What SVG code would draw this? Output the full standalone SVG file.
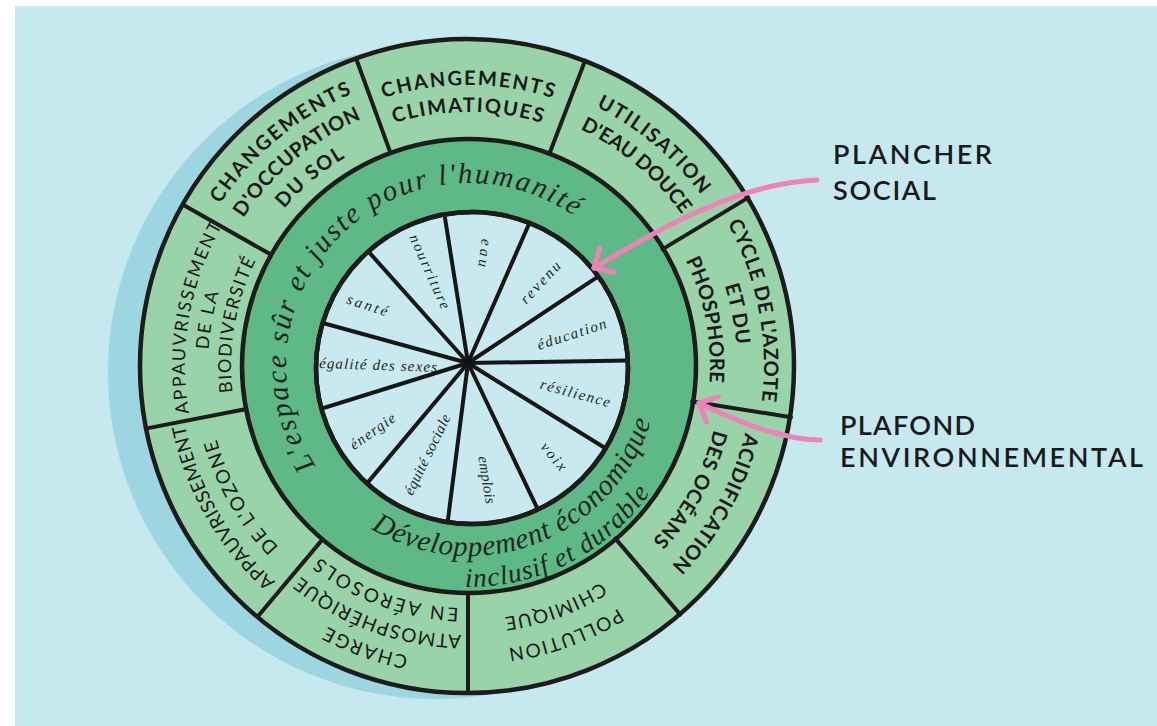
<svg xmlns="http://www.w3.org/2000/svg" width="1157" height="726" viewBox="0 0 1157 726">
  <style>
    .paper{fill:#ffffff}
    .bg{fill:#c6e8ef}
    .shadow{fill:#9dd6e0}
    .ring-outer{fill:#99d3a9;stroke:#1c1c1c;stroke-width:4.5}
    .ring-mid{fill:#5eb986;stroke:#1c1c1c;stroke-width:4.5}
    .core{fill:#c8e9ef;stroke:#1c1c1c;stroke-width:4.5}
    .divider{stroke:#1c1c1c;stroke-width:4;stroke-linecap:round}
    .spoke{stroke:#161616;stroke-width:4;stroke-linecap:round}
    .cap{font-family:Lato,"Open Sans",sans-serif;font-size:20px;font-weight:700;fill:#1a1a1a}
    .cap-light{font-weight:400;font-size:19px}
    .cap-small{font-size:18px}
    .script{font-family:"Liberation Serif","DejaVu Serif",serif;font-style:italic;fill:#1d2620}
    .ring-script{font-size:29px}
    .ring-script-2{font-size:27px}
    .need{font-size:15px}
    .link{fill:none;stroke:#ef82b6;stroke-width:5;stroke-linecap:round}
    .side{font-family:Lato,"Open Sans",sans-serif;font-size:27px;font-weight:600;fill:#1a1a1a}
  </style>
  <defs>
    <!-- 540° clockwise guide circles around the centre (468,366), starting at the bottom -->
    <path id="r237" d="M468,603 A237,237 0 0 1 468,129 A237,237 0 0 1 468,603 A237,237 0 0 1 468,129"/>
    <path id="r242" d="M468,608 A242,242 0 0 1 468,124 A242,242 0 0 1 468,608 A242,242 0 0 1 468,124"/>
    <path id="r254" d="M468,620 A254,254 0 0 1 468,112 A254,254 0 0 1 468,620 A254,254 0 0 1 468,112"/>
    <path id="r260" d="M468,626 A260,260 0 0 1 468,106 A260,260 0 0 1 468,626 A260,260 0 0 1 468,106"/>
    <path id="r262" d="M468,628 A262,262 0 0 1 468,104 A262,262 0 0 1 468,628 A262,262 0 0 1 468,104"/>
    <path id="r269" d="M468,635 A269,269 0 0 1 468,97 A269,269 0 0 1 468,635 A269,269 0 0 1 468,97"/>
    <path id="r281" d="M468,647 A281,281 0 0 1 468,85 A281,281 0 0 1 468,647 A281,281 0 0 1 468,85"/>
    <path id="r283" d="M468,649 A283,283 0 0 1 468,83 A283,283 0 0 1 468,649 A283,283 0 0 1 468,83"/>
    <path id="r285" d="M468,651 A285,285 0 0 1 468,81 A285,285 0 0 1 468,651 A285,285 0 0 1 468,81"/>
    <path id="r289" d="M468,655 A289,289 0 0 1 468,77 A289,289 0 0 1 468,655 A289,289 0 0 1 468,77"/>
    <path id="r296" d="M468,662 A296,296 0 0 1 468,70 A296,296 0 0 1 468,662 A296,296 0 0 1 468,70"/>
    <!-- guide for the upper script line (clockwise, tops outward) -->
    <path id="topScript" d="M469,549 A183,183 0 0 1 469,183 A183,183 0 0 1 469,549 A183,183 0 0 1 469,183"/>
    <!-- guides for the lower script lines (counter-clockwise, tops inward) -->
    <path id="lowScript1" d="M469,176 A190,190 0 0 0 469,556 A190,190 0 0 0 469,176"/>
    <path id="lowScript2" d="M469,145 A221,221 0 0 0 469,587 A221,221 0 0 0 469,145"/>
    <clipPath id="coreClip">
      <circle cx="472" cy="368" r="156"/>
    </clipPath>
    <marker id="arrowhead" viewBox="-20 -18 24 36" refX="0" refY="0" markerWidth="24" markerHeight="36" markerUnits="userSpaceOnUse" orient="auto">
      <path d="M-15,-14 L0,0 L-15,14" fill="none" stroke="#ef82b6" stroke-width="5" stroke-linecap="round" stroke-linejoin="round"/>
    </marker>
  </defs>

  <!-- paper and sky-blue panel -->
  <rect class="paper" x="0" y="0" width="1157" height="726"/>
  <rect class="bg" x="15" y="6" width="1142" height="720"/>

  <!-- soft drop shadow under the doughnut -->
  <circle class="shadow" cx="435" cy="372" r="327"/>

  <!-- rings -->
  <g id="ring-ceiling">
    <circle class="ring-outer" cx="467" cy="366" r="327"/>
  </g>
  <g id="ring-safe-space">
    <circle class="ring-mid" cx="469" cy="366" r="227"/>
  </g>
  <g id="ring-foundation">
    <circle class="core" cx="472" cy="368" r="156"/>
    <g clip-path="url(#coreClip)">
      <line class="spoke" x1="468" y1="363" x2="440.6" y2="190.2"/>
      <line class="spoke" x1="468" y1="363" x2="538.3" y2="202.8"/>
      <line class="spoke" x1="468" y1="363" x2="613.8" y2="266.2"/>
      <line class="spoke" x1="468" y1="363" x2="643.0" y2="360.3"/>
      <line class="spoke" x1="468" y1="363" x2="616.7" y2="455.2"/>
      <line class="spoke" x1="468" y1="363" x2="543.3" y2="521.0"/>
      <line class="spoke" x1="468" y1="363" x2="445.8" y2="536.6"/>
      <line class="spoke" x1="468" y1="363" x2="355.5" y2="497.1"/>
      <line class="spoke" x1="468" y1="363" x2="300.9" y2="415.0"/>
      <line class="spoke" x1="468" y1="363" x2="299.3" y2="316.5"/>
      <line class="spoke" x1="468" y1="363" x2="351.4" y2="232.5"/>
    </g>
    <circle cx="472" cy="368" r="156" fill="none" stroke="#1c1c1c" stroke-width="4.5"/>
    <circle cx="468" cy="363" r="4" fill="#111"/>
  </g>

  <!-- radial dividers of the outer ring -->
  <g id="ring-dividers">
    <line class="divider" x1="390.4" y1="152.6" x2="356.2" y2="58.7"/>
    <line class="divider" x1="549.3" y1="154.0" x2="585.1" y2="60.6"/>
    <line class="divider" x1="662.6" y1="249.1" x2="748.3" y2="197.6"/>
    <line class="divider" x1="692.2" y1="401.5" x2="791.0" y2="417.2"/>
    <line class="divider" x1="615.4" y1="538.6" x2="680.3" y2="614.6"/>
    <line class="divider" x1="468" y1="593" x2="468" y2="693"/>
    <line class="divider" x1="322.1" y1="539.9" x2="257.8" y2="616.5"/>
    <line class="divider" x1="245.1" y1="409.3" x2="146.9" y2="428.4"/>
    <line class="divider" x1="270.5" y1="254.3" x2="183.5" y2="205.0"/>
  </g>

  <!-- planetary boundaries -->
  <g id="boundary-climate" text-anchor="middle">
    <text class="cap"><textPath href="#r281" startOffset="33.333%" textLength="172">CHANGEMENTS</textPath></text>
    <text class="cap"><textPath href="#r254" startOffset="33.333%" textLength="150">CLIMATIQUES</textPath></text>
  </g>
  <g id="boundary-freshwater" text-anchor="middle">
    <text class="cap"><textPath href="#r289" startOffset="40.741%" textLength="138">UTILISATION</textPath></text>
    <text class="cap"><textPath href="#r262" startOffset="40.741%" textLength="134">D'EAU DOUCE</textPath></text>
  </g>
  <g id="boundary-nitrogen" text-anchor="middle">
    <text class="cap"><textPath href="#r296" startOffset="47.963%" textLength="184">CYCLE DE L'AZOTE</textPath></text>
    <text class="cap"><textPath href="#r269" startOffset="47.963%" textLength="60">ET DU</textPath></text>
    <text class="cap"><textPath href="#r242" startOffset="47.963%" textLength="126">PHOSPHORE</textPath></text>
  </g>
  <g id="boundary-ocean" text-anchor="middle">
    <text class="cap"><textPath href="#r285" startOffset="55.370%" textLength="154">ACIDIFICATION</textPath></text>
    <text class="cap"><textPath href="#r254" startOffset="55.370%" textLength="128">DES OCÉANS</textPath></text>
  </g>
  <g id="boundary-chemical" text-anchor="middle">
    <text class="cap cap-light"><textPath href="#r285" startOffset="62.963%" textLength="118">POLLUTION</textPath></text>
    <text class="cap cap-light"><textPath href="#r254" startOffset="62.963%" textLength="104">CHIMIQUE</textPath></text>
  </g>
  <g id="boundary-aerosol" text-anchor="middle">
    <text class="cap cap-light"><textPath href="#r296" startOffset="70.370%" textLength="86">CHARGE</textPath></text>
    <text class="cap cap-light"><textPath href="#r269" startOffset="70.370%" textLength="174">ATMOSPHÉRIQUE</textPath></text>
    <text class="cap cap-light"><textPath href="#r242" startOffset="70.370%" textLength="150">EN AÉROSOLS</textPath></text>
  </g>
  <g id="boundary-ozone" text-anchor="middle">
    <text class="cap cap-light"><textPath href="#r289" startOffset="11.111%" textLength="184">APPAUVRISSEMENT</textPath></text>
    <text class="cap cap-light"><textPath href="#r262" startOffset="11.111%" textLength="126">DE L'OZONE</textPath></text>
  </g>
  <g id="boundary-biodiversity" text-anchor="middle">
    <text class="cap cap-light cap-small"><textPath href="#r283" startOffset="18.519%" textLength="194">APPAUVRISSEMENT</textPath></text>
    <text class="cap cap-light cap-small"><textPath href="#r260" startOffset="18.519%" textLength="58">DE LA</textPath></text>
    <text class="cap cap-light cap-small"><textPath href="#r237" startOffset="18.519%" textLength="136">BIODIVERSITÉ</textPath></text>
  </g>
  <g id="boundary-land" text-anchor="middle">
    <text class="cap"><textPath href="#r296" startOffset="25.926%" textLength="174">CHANGEMENTS</textPath></text>
    <text class="cap"><textPath href="#r269" startOffset="25.926%" textLength="156">D'OCCUPATION</textPath></text>
    <text class="cap"><textPath href="#r242" startOffset="25.926%" textLength="80">DU SOL</textPath></text>
  </g>

  <!-- safe and just space -->
  <g id="safe-space-label" text-anchor="middle">
    <text class="script ring-script"><textPath href="#topScript" startOffset="25.185%" textLength="505">L'espace sûr et juste pour l'humanité</textPath></text>
    <text class="script ring-script"><textPath href="#lowScript1" startOffset="55.833%" textLength="345">Développement économique</textPath></text>
    <text class="script ring-script-2"><textPath href="#lowScript2" startOffset="57.5%" textLength="216">inclusif et durable</textPath></text>
  </g>

  <!-- social foundation -->
  <g id="needs" class="script need" text-anchor="middle">
    <g id="need-eau"><text transform="translate(484,253) rotate(97)" y="4" textLength="28">eau</text></g>
    <g id="need-revenu"><text transform="translate(541,283) rotate(-47)" y="4" textLength="52">revenu</text></g>
    <g id="need-education"><text transform="translate(572,335) rotate(-18)" y="4" textLength="72">éducation</text></g>
    <g id="need-resilience"><text transform="translate(575,394) rotate(15)" y="4" textLength="72">résilience</text></g>
    <g id="need-voix"><text transform="translate(553,457) rotate(50)" y="4" textLength="32">voix</text></g>
    <g id="need-emplois"><text transform="translate(486,480) rotate(81)" y="4" textLength="48">emplois</text></g>
    <g id="need-equite"><text transform="translate(428,455) rotate(-64)" y="4" textLength="88">équité sociale</text></g>
    <g id="need-energie"><text transform="translate(373,432) rotate(-35)" y="4" textLength="52">énergie</text></g>
    <g id="need-egalite"><text transform="translate(378,366) rotate(2)" y="4" textLength="118">égalité des sexes</text></g>
    <g id="need-sante"><text transform="translate(367,306) rotate(18)" y="4" textLength="42">santé</text></g>
    <g id="need-nourriture"><text transform="translate(429,272) rotate(66)" y="4" textLength="80">nourriture</text></g>
  </g>

  <!-- side captions -->
  <g id="caption-floor">
    <text class="side" x="833" y="164" textLength="159">PLANCHER</text>
    <text class="side" x="833" y="200" textLength="103">SOCIAL</text>
  </g>
  <g id="caption-ceiling">
    <text class="side" x="840" y="435" textLength="135">PLAFOND</text>
    <text class="side" x="840" y="467" textLength="303">ENVIRONNEMENTAL</text>
  </g>

  <!-- pointers -->
  <g id="connectors">
    <path class="link" d="M817,180 C740,183 660,228 594,268" marker-end="url(#arrowhead)"/>
    <path class="link" d="M820,440 C780,440 735,420 699,403" marker-end="url(#arrowhead)"/>
  </g>
</svg>
